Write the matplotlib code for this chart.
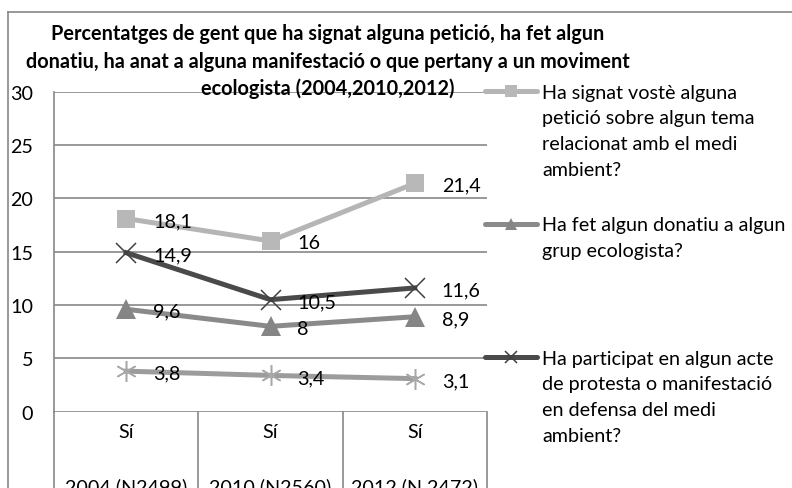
import matplotlib
matplotlib.use("Agg")
import matplotlib.pyplot as plt
from matplotlib.lines import Line2D

plt.rcParams['font.family'] = ['Lato', 'DejaVu Sans']

# Data
groups = ["2004 (N2499)", "2010 (N2560)", "2012 (N 2472)"]
answers = ["Sí", "Sí", "Sí"]
peticio = [18.1, 16, 21.4]
donatiu = [9.6, 8, 8.9]
protesta = [14.9, 10.5, 11.6]
pertany = [3.8, 3.4, 3.1]
yticks = [0, 5, 10, 15, 20, 25, 30]

legend_texts = [
    "Ha signat vostè alguna\npetició sobre algun tema\nrelacionat amb el medi\nambient?",
    "Ha fet algun donatiu a algun\ngrup ecologista?",
    "Ha participat en algun acte\nde protesta o manifestació\nen defensa del medi\nambient?",
]
title_lines = [
    "Percentatges de gent que ha signat alguna petició, ha fet algun",
    "donatiu, ha anat a alguna manifestació o que pertany a un moviment",
    "ecologista (2004,2010,2012)",
]

W, H = 792, 489
fig = plt.figure(figsize=(W / 100, H / 100), dpi=100)
renderer = fig.canvas.get_renderer()


def fx(px):
    return px / W


def fy(py):
    return 1 - py / H


def fit_size(text, width_px, **kw):
    """Font size at which `text` spans `width_px` pixels."""
    t = fig.text(0, 0, text, fontsize=10, **kw)
    w = t.get_window_extent(renderer).width
    t.remove()
    return 10 * width_px / w


GRID = "#878787"
FS = fit_size("Ha fet algun donatiu a algun", 243)
TFS = fit_size(title_lines[1], 603, fontweight="bold")

# Outer chart frame (top and left edges)
fig.add_artist(Line2D([fx(8), 1.0], [fy(13), fy(13)], color=GRID, lw=1.2))
fig.add_artist(Line2D([fx(8), fx(8)], [fy(13), 0.0], color=GRID, lw=1.2))

left, right, top, bottom = 54, 487, 92.6, 412.7
ax = fig.add_axes([fx(left), fy(bottom), (right - left) / W, (bottom - top) / H])
ax.set_xlim(-0.5, 2.5)
ax.set_ylim(0, 30)
ax.set_yticks(yticks)
ax.set_yticklabels([str(v) for v in yticks], fontsize=FS)
ax.tick_params(axis='y', length=0, pad=15)
ax.set_xticks([])
for s in ["top", "right", "bottom"]:
    ax.spines[s].set_visible(False)
ax.spines["left"].set_color(GRID)
ax.spines["left"].set_linewidth(1.2)
ax.yaxis.grid(True, color=GRID, lw=1.2)
ax.set_axisbelow(True)

x = list(range(len(groups)))
series = [
    (peticio, "#b5b5b5", "#b8b8b8", "s", 13.5, None),
    (donatiu, "#8a8a8a", "#858585", "^", 14, None),
    (protesta, "#4a4a4a", "#404040", "x", 14, 1.1),
    (pertany, "#9c9c9c", "#a8a8a8", (6, 2, 0), 15, 1.1),
]
handles = []
for vals, lc, mc, mk, ms, mew in series:
    ax.plot(x, vals, color=lc, lw=3.6, marker=mk, markersize=ms,
            markerfacecolor=mc, markeredgecolor=mc,
            markeredgewidth=(mew if mew else 0), zorder=3)
    handles.append((lc, mc, mk, mew))
    for xi, v in zip(x, vals):
        ax.annotate(f"{v:g}".replace(".", ","), (xi, v), xytext=(27, -7.5),
                    textcoords="offset pixels", ha="left", va="baseline",
                    fontsize=FS, color="black", zorder=4)

# Two-level category axis
xt = ax.get_xaxis_transform()
span = bottom - top
for b in [-0.5, 0.5, 1.5, 2.5]:
    ax.plot([b, b], [0, -0.3], transform=xt, color=GRID, lw=1.2, clip_on=False)
for xi, (a, g) in enumerate(zip(answers, groups)):
    ax.text(xi, (bottom - 438) / span, a, transform=xt,
            ha="center", va="baseline", fontsize=FS)
    ax.text(xi, (bottom - 493) / span, g, transform=xt,
            ha="center", va="baseline", fontsize=FS)

# Title
for ty, line in zip([40, 67.5, 95], title_lines):
    fig.text(fx(328), fy(ty), line, ha="center", va="baseline",
             fontsize=TFS, fontweight="bold")

# Legend
leg_y = [92, 225, 358]
line_gap = 25.8
for (lc, mc, mk, mew), ly, txt in zip(handles[:3], leg_y, legend_texts):
    fig.add_artist(Line2D([fx(485), fx(537)], [fy(ly), fy(ly)], color=lc,
                          lw=3.6, solid_capstyle="round"))
    fig.add_artist(Line2D([fx(511)], [fy(ly)], marker=mk, markersize=8.5,
                          markerfacecolor=mc, markeredgecolor=mc,
                          markeredgewidth=(mew if mew else 0), color=lc))
    for k, tl in enumerate(txt.split("\n")):
        fig.text(fx(542), fy(ly + 6.5 + k * line_gap), tl, ha="left",
                 va="baseline", fontsize=FS)

fig.savefig("out.png", dpi=100)
